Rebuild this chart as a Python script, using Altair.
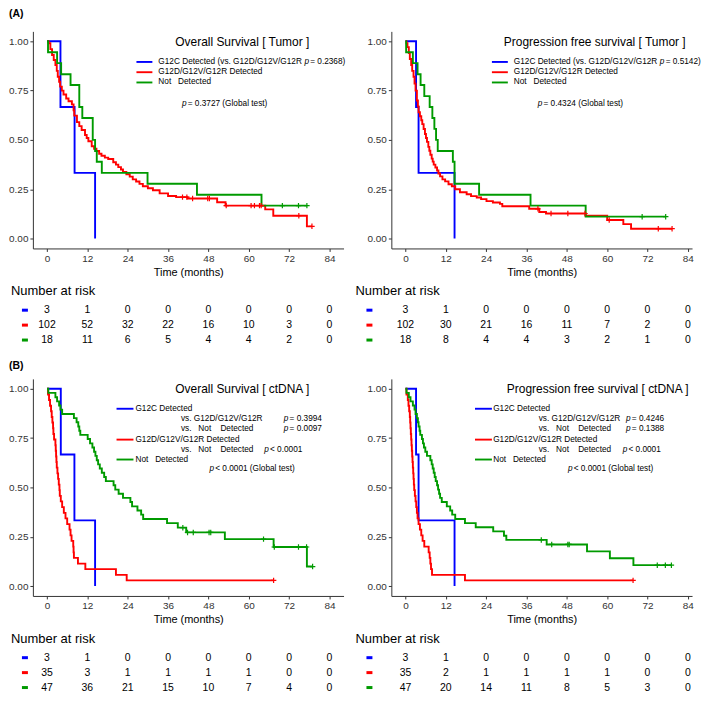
import altair as alt
import pandas as pd

FONT = "Liberation Sans"
GROUPS = ["G12C", "Other", "Not"]
PALETTE = ["#0000FF", "#FF0000", "#009A00"]
TIME_TICKS = [0, 12, 24, 36, 48, 60, 72, 84]
SURV_TICKS = [0, 0.25, 0.5, 0.75, 1.0]

# ---------------- (A) Overall survival [ Tumor ] ----------------
A_OS_G12C_T = [0, 4.0, 8.2, 14.3]
A_OS_G12C_S = [1, 0.667, 0.333, 0]
A_OS_OTH_T = [0, 0.5, 1.0, 1.5, 2.0, 2.5, 2.9, 3.2, 3.6, 3.9, 4.4, 4.9, 5.7, 6.4, 7.4, 7.9, 8.1, 8.9, 9.6, 10.3,
              11.3, 11.8, 12.3, 13.3, 14.0, 14.7, 15.5, 16.2, 17.2, 18.2, 19.7, 20.5, 21.2, 22.0, 22.6, 23.6, 24.6,
              25.5, 26.5, 27.5, 28.5, 30.0, 31.5, 33.5, 36.0, 38.4, 41.8, 50.6, 53.1, 64.9, 67.3, 77.3, 78.8]
A_OS_OTH_S = [1, 0.99, 0.96, 0.93, 0.905, 0.88, 0.85, 0.82, 0.795, 0.77, 0.75, 0.73, 0.71, 0.696, 0.68, 0.65, 0.623,
              0.59, 0.57, 0.55, 0.525, 0.51, 0.493, 0.468, 0.455, 0.444, 0.43, 0.42, 0.41, 0.403, 0.387, 0.375, 0.362,
              0.35, 0.338, 0.326, 0.314, 0.30, 0.289, 0.277, 0.265, 0.255, 0.245, 0.229, 0.216, 0.21, 0.203, 0.184,
              0.167, 0.148, 0.116, 0.062, 0.062]
A_OS_OTH_CT = [40.3, 41.6, 43.3, 47.8, 48.3, 53.3, 60.7, 61.7, 63.2, 63.7, 74.9, 78.8]
A_OS_OTH_CS = [0.21, 0.21, 0.203, 0.203, 0.203, 0.167, 0.167, 0.167, 0.167, 0.167, 0.116, 0.062]
A_OS_NOT_T = [0, 0.3, 3.0, 4.2, 7.0, 9.6, 10.5, 13.6, 14.3, 14.8, 16.3, 29.9, 44.6, 63.8, 77.3]
A_OS_NOT_S = [1, 0.944, 0.889, 0.833, 0.778, 0.667, 0.611, 0.5, 0.444, 0.389, 0.333, 0.278, 0.222, 0.167, 0.167]
A_OS_NOT_CT = [70.0, 74.8, 77.3]
A_OS_NOT_CS = [0.167, 0.167, 0.167]
RISK_A_OS_G12C = [3, 1, 0, 0, 0, 0, 0, 0]
RISK_A_OS_OTH = [102, 52, 32, 22, 16, 10, 3, 0]
RISK_A_OS_NOT = [18, 11, 6, 5, 4, 4, 2, 0]

# ---------------- (A) Progression free survival [ Tumor ] ----------------
A_PFS_G12C_T = [0, 3.15, 3.9, 14.6]
A_PFS_G12C_S = [1, 0.667, 0.333, 0]
A_PFS_OTH_T = [0, 0.3, 0.6, 1.0, 1.3, 1.7, 2.0, 2.4, 2.7, 3.0, 3.4, 3.7, 3.9, 4.3, 4.7, 5.0, 5.4, 5.8, 6.1, 6.4, 6.8,
               7.1, 7.4, 7.8, 8.1, 8.4, 8.9, 9.4, 9.8, 10.3, 11.0, 11.8, 12.8, 13.8, 14.8, 16.2, 18.2, 19.5, 21.2,
               22.5, 24.1, 26.0, 28.1, 28.8, 36.8, 39.8, 41.8, 53.6, 60.0, 64.8, 67.1, 79.3]
A_PFS_OTH_S = [1, 0.99, 0.97, 0.94, 0.91, 0.88, 0.85, 0.82, 0.785, 0.75, 0.70, 0.67, 0.64, 0.62, 0.60, 0.58, 0.555,
               0.53, 0.51, 0.49, 0.465, 0.445, 0.425, 0.405, 0.39, 0.375, 0.36, 0.345, 0.33, 0.315, 0.30, 0.29, 0.275,
               0.265, 0.25, 0.235, 0.225, 0.215, 0.208, 0.20, 0.19, 0.183, 0.176, 0.164, 0.151, 0.135, 0.127, 0.116,
               0.094, 0.073, 0.05, 0.05]
A_PFS_OTH_CT = [39.4, 43.3, 48.3, 53.4, 60.6, 75.2, 79.3]
A_PFS_OTH_CS = [0.151, 0.127, 0.127, 0.127, 0.094, 0.05, 0.05]
A_PFS_NOT_T = [0, 0.2, 2.2, 3.6, 4.5, 5.6, 7.2, 8.0, 8.6, 9.1, 9.6, 14.1, 14.6, 21.9, 37.2, 53.6, 77.4]
A_PFS_NOT_S = [1, 0.944, 0.889, 0.833, 0.778, 0.722, 0.667, 0.611, 0.556, 0.5, 0.444, 0.389, 0.278, 0.222, 0.167,
               0.111, 0.111]
A_PFS_NOT_CT = [70.4, 77.4]
A_PFS_NOT_CS = [0.111, 0.111]
RISK_A_PFS_G12C = [3, 1, 0, 0, 0, 0, 0, 0]
RISK_A_PFS_OTH = [102, 30, 21, 16, 11, 7, 2, 0]
RISK_A_PFS_NOT = [18, 8, 4, 4, 3, 2, 1, 0]

# ---------------- (B) Overall survival [ ctDNA ] ----------------
B_OS_G12C_T = [0, 4.1, 8.15, 14.3]
B_OS_G12C_S = [1, 0.667, 0.333, 0]
B_OS_OTH_T = [0, 0.3, 0.6, 0.9, 1.2, 1.4, 1.6, 1.8, 1.9, 2.1, 2.5, 2.6, 2.7, 2.8, 2.9, 3.1, 3.3, 3.5, 3.7, 3.8, 4.1,
              4.5, 5.0, 5.5, 6.0, 6.7, 7.0, 7.3, 7.8, 7.9, 8.0, 9.2, 11.4, 20.5, 23.7, 67.4]
B_OS_OTH_S = [1, 0.971, 0.943, 0.914, 0.886, 0.857, 0.829, 0.8, 0.771, 0.743, 0.714, 0.686, 0.657, 0.629, 0.6, 0.571,
              0.543, 0.514, 0.486, 0.457, 0.429, 0.4, 0.371, 0.343, 0.314, 0.286, 0.257, 0.229, 0.2, 0.171, 0.143,
              0.114, 0.086, 0.057, 0.029, 0.029]
B_OS_OTH_CT = [67.4]
B_OS_OTH_CS = [0.029]
B_OS_NOT_T = [0, 0.4, 2.5, 3.0, 3.6, 4.0, 4.5, 8.0, 8.8, 9.3, 9.6, 9.9, 12.1, 12.8, 13.5, 14.0, 14.4, 14.8, 15.2, 15.7,
              16.3, 17.0, 17.5, 19.8, 20.3, 21.3, 22.6, 24.8, 25.3, 26.9, 28.0, 28.6, 35.7, 38.9, 41.4, 52.9, 67.4,
              77.3, 79.0]
B_OS_NOT_S = [1, 0.979, 0.957, 0.936, 0.915, 0.894, 0.872, 0.851, 0.830, 0.809, 0.787, 0.766, 0.745, 0.723, 0.702,
              0.681, 0.660, 0.638, 0.617, 0.596, 0.574, 0.553, 0.532, 0.511, 0.489, 0.468, 0.447, 0.426, 0.404, 0.383,
              0.362, 0.340, 0.319, 0.296, 0.272, 0.238, 0.198, 0.099, 0.099]
B_OS_NOT_CT = [40.4, 41.8, 43.5, 48.2, 48.7, 64.4, 67.6, 74.8, 77.2, 79.0]
B_OS_NOT_CS = [0.296, 0.272, 0.272, 0.272, 0.272, 0.238, 0.198, 0.198, 0.198, 0.099]
RISK_B_OS_G12C = [3, 1, 0, 0, 0, 0, 0, 0]
RISK_B_OS_OTH = [35, 3, 1, 1, 1, 1, 0, 0]
RISK_B_OS_NOT = [47, 36, 21, 15, 10, 7, 4, 0]

# ---------------- (B) Progression free survival [ ctDNA ] ----------------
B_PFS_G12C_T = [0, 3.15, 3.9, 14.6]
B_PFS_G12C_S = [1, 0.667, 0.333, 0]
B_PFS_OTH_T = [0, 0.3, 0.7, 0.9, 1.1, 1.3, 1.4, 1.5, 1.6, 1.7, 1.8, 1.9, 2.0, 2.1, 2.2, 2.3, 2.4, 2.5, 2.6, 2.8, 3.0,
               3.2, 3.4, 3.6, 3.9, 4.3, 4.7, 5.1, 5.6, 6.9, 7.2, 7.4, 7.6, 7.9, 17.7, 67.7]
B_PFS_OTH_S = [1, 0.971, 0.943, 0.914, 0.886, 0.857, 0.829, 0.8, 0.771, 0.743, 0.714, 0.686, 0.657, 0.629, 0.6, 0.571,
               0.543, 0.514, 0.486, 0.457, 0.429, 0.4, 0.371, 0.343, 0.314, 0.286, 0.257, 0.229, 0.2, 0.171, 0.143,
               0.114, 0.086, 0.057, 0.029, 0.029]
B_PFS_OTH_CT = [67.7]
B_PFS_OTH_CS = [0.029]
B_PFS_NOT_T = [0, 0.3, 1.0, 1.5, 2.2, 2.7, 3.0, 3.4, 3.7, 3.9, 4.2, 4.4, 4.9, 5.2, 5.5, 5.9, 6.4, 7.4, 7.8, 8.1, 8.4,
               8.7, 9.0, 9.4, 9.7, 10.0, 10.3, 10.8, 12.3, 13.3, 13.9, 14.8, 17.7, 20.9, 26.1, 29.3, 30.0, 42.0, 54.0,
               60.8, 67.8, 79.1]
B_PFS_NOT_S = [1, 0.979, 0.957, 0.936, 0.915, 0.894, 0.872, 0.851, 0.830, 0.809, 0.787, 0.766, 0.745, 0.723, 0.702,
               0.681, 0.660, 0.638, 0.617, 0.596, 0.574, 0.553, 0.532, 0.511, 0.489, 0.468, 0.447, 0.426, 0.404, 0.383,
               0.362, 0.340, 0.319, 0.298, 0.277, 0.255, 0.234, 0.211, 0.176, 0.141, 0.106, 0.106]
B_PFS_NOT_CT = [40.4, 43.5, 48.3, 48.7, 74.9, 77.3, 79.1]
B_PFS_NOT_CS = [0.234, 0.211, 0.211, 0.211, 0.106, 0.106, 0.106]
RISK_B_PFS_G12C = [3, 1, 0, 0, 0, 0, 0, 0]
RISK_B_PFS_OTH = [35, 2, 1, 1, 1, 1, 0, 0]
RISK_B_PFS_NOT = [47, 20, 14, 11, 8, 5, 3, 0]

# ---------------- geometry ----------------
W_L, W_R, H, HR = 312, 302, 218, 65
PPM = W_L / 92.4
XDOM_L = [-4.2, 88.2]
XDOM_R = [-4.2, -4.2 + W_R / PPM]
YDOM = [-0.05, 1.05]
PLUS = "M-1,0L1,0M0,-1L0,1"
ONE = pd.DataFrame({"k": [0]})
NB = "\u00a0"
LEG = 8.3

AW = {" ": 278, NB: 278, "(": 333, ")": 333, ".": 278, "/": 278, "=": 584, "<": 584, "[": 278, "]": 278,
      "A": 667, "C": 722, "D": 722, "G": 778, "N": 722, "R": 722, "V": 667, "T": 611, "S": 667, "O": 778,
      "P": 667, "a": 556, "b": 556, "c": 500, "d": 556, "e": 556, "f": 278, "g": 556, "h": 556, "i": 222,
      "k": 500, "l": 222, "m": 833, "n": 556, "o": 556, "p": 556, "r": 333, "s": 500, "t": 278, "u": 556,
      "v": 500}


def tw(s, size):
    return sum(AW.get(c, 556) for c in s) * size / 1000.0


def label(x, y, s, size=LEG, italic=False, bold=False, color="#000000", align="left"):
    return alt.Chart(ONE).mark_text(
        text=s, align=align, baseline="middle", font=FONT, fontSize=size,
        fontStyle="italic" if italic else "normal", fontWeight="bold" if bold else "normal", color=color
    ).encode(x=alt.value(x), y=alt.value(y))


def seg(x1, x2, y, color, w=1.9):
    return alt.Chart(ONE).mark_rule(color=color, strokeWidth=w).encode(
        x=alt.value(x1), x2=alt.value(x2), y=alt.value(y))


def ptext(x, y, before, after, size=LEG):
    """normal text, then an italic p, then the rest (leading blanks kept as no-break spaces)."""
    out = []
    if before:
        out.append(label(x, y, before.rstrip(), size))
        x = x + tw(before, size)
    out.append(label(x, y, "p", size, italic=True))
    out.append(label(x + tw("p", size) + 1.2, y, after.replace(" ", NB), size))
    return out


def color_enc():
    return alt.Color("group:N", scale=alt.Scale(domain=GROUPS, range=PALETTE), legend=None)


def km_view(curves, cens, width, xdom, annots):
    rows = []
    for g in GROUPS:
        T, S = curves[g]
        rows += [{"time": t, "surv": s, "group": g} for t, s in zip(T, S)]
    crow = []
    for g in GROUPS:
        if g in cens:
            T, S = cens[g]
            crow += [{"time": t, "surv": s, "group": g} for t, s in zip(T, S)]
    xsc = alt.Scale(domain=xdom, nice=False, zero=False)
    ysc = alt.Scale(domain=YDOM, nice=False, zero=False)
    ax_style = dict(grid=False, labelFont=FONT, labelFontSize=10, labelColor="#333333", tickColor="#333333",
                    domainColor="#333333", tickSize=3, labelPadding=2, domainWidth=1, tickWidth=1)
    xax = alt.Axis(values=TIME_TICKS, title="Time (months)", titleFont=FONT, titleFontSize=11,
                   titleFontWeight="normal", titleColor="#000000", titlePadding=3, labelFlush=False, **ax_style)
    yax = alt.Axis(values=SURV_TICKS, format=".2f", title=None, **ax_style)
    lines = alt.Chart(pd.DataFrame(rows)).mark_line(interpolate="step-after", strokeWidth=1.9).encode(
        x=alt.X("time:Q", scale=xsc, axis=xax),
        y=alt.Y("surv:Q", scale=ysc, axis=yax),
        color=color_enc())
    marks = alt.Chart(pd.DataFrame(crow)).mark_point(
        shape=PLUS, size=30, strokeWidth=1.2, filled=False, opacity=1).encode(
        x=alt.X("time:Q", scale=xsc), y=alt.Y("surv:Q", scale=ysc), color=color_enc())
    return alt.layer(lines, marks, *annots).properties(width=width, height=H)


def risk_view(counts, width, xdom, title_x, dash_x):
    rows = []
    for g in GROUPS:
        rows += [{"time": t, "group": g, "n": n} for t, n in zip(TIME_TICKS, counts[g])]
    xsc = alt.Scale(domain=xdom, nice=False, zero=False)
    ysc = alt.Scale(type="point", domain=GROUPS, range=[29, 59], padding=0)
    nums = alt.Chart(pd.DataFrame(rows)).mark_text(font=FONT, fontSize=10.5, color="#000000").encode(
        x=alt.X("time:Q", scale=xsc, axis=None),
        y=alt.Y("group:N", scale=ysc, axis=None),
        text="n:Q")
    dashes = alt.Chart(pd.DataFrame({"group": GROUPS})).mark_rule(strokeWidth=3).encode(
        x=alt.value(dash_x), x2=alt.value(dash_x + 6),
        y=alt.Y("group:N", scale=ysc, axis=None), color=color_enc())
    ttl = label(title_x, 10, "Number at risk", size=13)
    return alt.layer(nums, dashes, ttl).properties(width=width, height=HR)


B, R, G = PALETTE
NOTDET = NB + "Not" + NB * 3 + "Detected"
VSNOT = "vs." + NB * 3 + "Not" + NB * 4 + "Detected"

# --- annotations A-left
ann_AL = [label(-24, -17, "(A)", size=10.5, bold=True),
          label(143, 10.7, "Overall Survival [ Tumor ]", size=12),
          seg(104, 120, 30.7, B), seg(104, 120, 41, R), seg(104, 120, 51.3, G)]
ann_AL += ptext(126, 30.7, "G12C Detected (vs. G12D/G12V/G12R ", " = 0.2368)")
ann_AL += [label(126, 41, "G12D/G12V/G12R Detected"), label(126, 51.3, NOTDET)]
ann_AL += ptext(149.7, 72.7, "", " = 0.3727 (Global test)")

# --- annotations A-right
ann_AR = [label(113, 10.7, "Progression free survival [ Tumor ]", size=12),
          seg(101, 117, 30.7, B), seg(101, 117, 41, R), seg(101, 117, 51.3, G)]
ann_AR += ptext(123, 30.7, "G12C Detected (vs. G12D/G12V/G12R ", " = 0.5142)")
ann_AR += [label(123, 41, "G12D/G12V/G12R Detected"), label(123, 51.3, NOTDET)]
ann_AR += ptext(147, 72.7, "", " = 0.4324 (Global test)")

# --- annotations B-left
ann_BL = [label(-24, -13, "(B)", size=10.5, bold=True),
          label(143, 10, "Overall Survival [ ctDNA ]", size=12),
          seg(84, 101, 30, B), seg(84, 101, 61, R), seg(84, 101, 81, G),
          label(103, 30, "G12C Detected"),
          label(148.7, 40.7, "vs. G12D/G12V/G12R"),
          label(148.7, 50.7, VSNOT),
          label(103, 61, "G12D/G12V/G12R Detected"),
          label(148.7, 71, VSNOT),
          label(103, 81, NOTDET)]
ann_BL += ptext(252, 40.7, "", " = 0.3994")
ann_BL += ptext(252, 50.7, "", " = 0.0097")
ann_BL += ptext(232.3, 71, "", " < 0.0001")
ann_BL += ptext(177.3, 91, "", " < 0.0001 (Global test)")

# --- annotations B-right
ann_BR = [label(116, 10, "Progression free survival [ ctDNA ]", size=12),
          seg(84, 101, 30, B), seg(84, 101, 61, R), seg(84, 101, 81, G),
          label(102.3, 30, "G12C Detected"),
          label(148, 40.7, "vs. G12D/G12V/G12R"),
          label(148, 50.7, VSNOT),
          label(102.3, 61, "G12D/G12V/G12R Detected"),
          label(148, 71, VSNOT),
          label(102.3, 81, NOTDET)]
ann_BR += ptext(235.7, 40.7, "", " = 0.4246")
ann_BR += ptext(235.7, 50.7, "", " = 0.1388")
ann_BR += ptext(232.3, 71, "", " < 0.0001")
ann_BR += ptext(177.3, 91, "", " < 0.0001 (Global test)")

kAL = km_view({"G12C": (A_OS_G12C_T, A_OS_G12C_S), "Other": (A_OS_OTH_T, A_OS_OTH_S),
               "Not": (A_OS_NOT_T, A_OS_NOT_S)},
              {"Other": (A_OS_OTH_CT, A_OS_OTH_CS), "Not": (A_OS_NOT_CT, A_OS_NOT_CS)},
              W_L, XDOM_L, ann_AL)
kAR = km_view({"G12C": (A_PFS_G12C_T, A_PFS_G12C_S), "Other": (A_PFS_OTH_T, A_PFS_OTH_S),
               "Not": (A_PFS_NOT_T, A_PFS_NOT_S)},
              {"Other": (A_PFS_OTH_CT, A_PFS_OTH_CS), "Not": (A_PFS_NOT_CT, A_PFS_NOT_CS)},
              W_R, XDOM_R, ann_AR)
kBL = km_view({"G12C": (B_OS_G12C_T, B_OS_G12C_S), "Other": (B_OS_OTH_T, B_OS_OTH_S),
               "Not": (B_OS_NOT_T, B_OS_NOT_S)},
              {"Other": (B_OS_OTH_CT, B_OS_OTH_CS), "Not": (B_OS_NOT_CT, B_OS_NOT_CS)},
              W_L, XDOM_L, ann_BL)
kBR = km_view({"G12C": (B_PFS_G12C_T, B_PFS_G12C_S), "Other": (B_PFS_OTH_T, B_PFS_OTH_S),
               "Not": (B_PFS_NOT_T, B_PFS_NOT_S)},
              {"Other": (B_PFS_OTH_CT, B_PFS_OTH_CS), "Not": (B_PFS_NOT_CT, B_PFS_NOT_CS)},
              W_R, XDOM_R, ann_BR)

rAL = risk_view({"G12C": RISK_A_OS_G12C, "Other": RISK_A_OS_OTH, "Not": RISK_A_OS_NOT}, W_L, XDOM_L, -22, -11)
rAR = risk_view({"G12C": RISK_A_PFS_G12C, "Other": RISK_A_PFS_OTH, "Not": RISK_A_PFS_NOT}, W_R, XDOM_R, -36, -25)
rBL = risk_view({"G12C": RISK_B_OS_G12C, "Other": RISK_B_OS_OTH, "Not": RISK_B_OS_NOT}, W_L, XDOM_L, -22, -11)
rBR = risk_view({"G12C": RISK_B_PFS_G12C, "Other": RISK_B_PFS_OTH, "Not": RISK_B_PFS_NOT}, W_R, XDOM_R, -36, -25)

chart = alt.concat(
    kAL, kAR, rAL, rAR, kBL, kBR, rBL, rBR,
    columns=2, spacing={"row": 33, "column": 48}, bounds="flush", align="each"
).properties(padding=0).configure_view(stroke=None)

chart.save("out.html", embed_options={"renderer": "svg", "actions": False})
